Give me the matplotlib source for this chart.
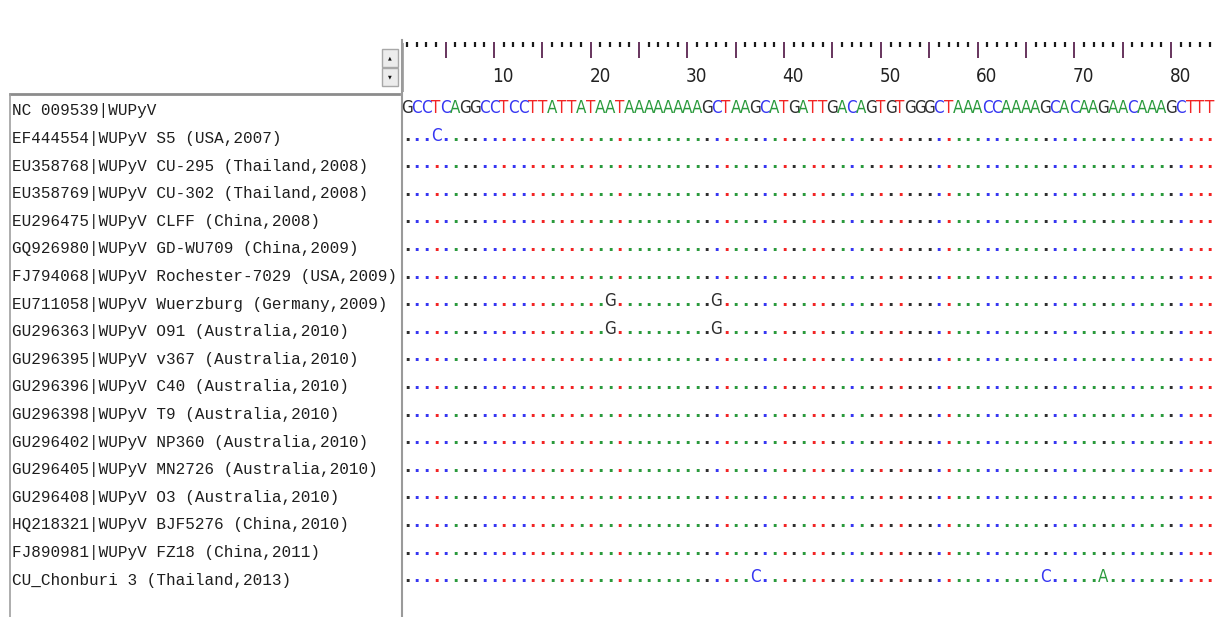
import matplotlib.pyplot as plt
from matplotlib import font_manager
from matplotlib.font_manager import FontProperties
from matplotlib.patches import Rectangle

# alignment data
names = [
    "NC 009539|WUPyV",
    "EF444554|WUPyV S5 (USA,2007)",
    "EU358768|WUPyV CU-295 (Thailand,2008)",
    "EU358769|WUPyV CU-302 (Thailand,2008)",
    "EU296475|WUPyV CLFF (China,2008)",
    "GQ926980|WUPyV GD-WU709 (China,2009)",
    "FJ794068|WUPyV Rochester-7029 (USA,2009)",
    "EU711058|WUPyV Wuerzburg (Germany,2009)",
    "GU296363|WUPyV O91 (Australia,2010)",
    "GU296395|WUPyV v367 (Australia,2010)",
    "GU296396|WUPyV C40 (Australia,2010)",
    "GU296398|WUPyV T9 (Australia,2010)",
    "GU296402|WUPyV NP360 (Australia,2010)",
    "GU296405|WUPyV MN2726 (Australia,2010)",
    "GU296408|WUPyV O3 (Australia,2010)",
    "HQ218321|WUPyV BJF5276 (China,2010)",
    "FJ890981|WUPyV FZ18 (China,2011)",
    "CU_Chonburi 3 (Thailand,2013)",
]
reference = "GCCTCAGGCCTCCTTATTATAATAAAAAAAAGCTAAGCATGATTGACAGTGTGGGCTAAACCAAAAGCACAAGAACAAAGCTTT"
variant_rows = [1, 7, 8, 17]
variant_pos = [[4], [22, 33], [22, 33], [37, 67, 73]]
variant_base = [["C"], ["G", "G"], ["G", "G"], ["C", "C", "A"]]
ruler_labels = [10, 20, 30, 40, 50, 60, 70, 80]

base_colors = {"G": "#2e2e2e", "C": "#3636f2", "T": "#f22424", "A": "#2a9a3c"}

W, H = 1218, 617
col_px0, col_w = 407, 9.67     # pixel centre of column 1, column width
row_px0, row_h = 113, 27.6     # baseline of first row, row height
seq_left, seq_top = 403, 92
ruler_top = 40


def narrow_font(size):
    # look for an installed condensed sans face, else plain DejaVu Sans
    order = ["Noto Sans", "Open Sans", "DejaVu Sans", "Liberation Sans Narrow", "Roboto"]
    found = {}
    for f in font_manager.fontManager.ttflist:
        cond = str(f.stretch) in ("condensed", "semi-condensed", "extra-condensed", "ultra-condensed")
        cond = cond or f.name == "Liberation Sans Narrow"
        if cond and f.style == "normal" and str(f.weight) in ("400", "normal", "regular"):
            found.setdefault(f.name, f.fname)
    for name in order:
        if name in found:
            return FontProperties(fname=found[name], size=size), True
    return FontProperties(family="DejaVu Sans", size=size * 0.8), False


seq_font, is_narrow = narrow_font(12.2)
label_font, _ = narrow_font(13.5)
installed = {f.name for f in font_manager.fontManager.ttflist}
mono = "Liberation Mono" if "Liberation Mono" in installed else "DejaVu Sans Mono"

fig = plt.figure(figsize=(W / 100, H / 100), dpi=100)

# window chrome in pixel coordinates
chrome = fig.add_axes([0, 0, 1, 1])
chrome.set_xlim(0, W)
chrome.set_ylim(H, 0)
chrome.axis("off")
chrome.plot([10, 399], [94, 94], color="#8c8c8c", lw=2)
chrome.plot([10, 10], [95, H], color="#a0a0a0", lw=1.2)
chrome.plot([401.5, 401.5], [ruler_top, H], color="#9a9a9a", lw=1.5)
for y0 in (49, 68):
    chrome.add_patch(Rectangle((382, y0), 16, 18, facecolor="#ececec",
                               edgecolor="#a8a8a8", lw=1))
chrome.text(390, 58, "\u25b2", fontsize=3.5, ha="center", va="center", color="#111111")
chrome.text(390, 77, "\u25bc", fontsize=3.5, ha="center", va="center", color="#111111")

c_left = 1 + (seq_left - col_px0) / col_w
c_right = 1 + (W - col_px0) / col_w
r_top = (seq_top - row_px0) / row_h
r_bottom = (H - row_px0) / row_h

# ruler
ax_r = fig.add_axes([seq_left / W, (H - seq_top) / H, (W - seq_left) / W,
                     (seq_top - ruler_top) / H])
ax_r.set_xlim(c_left, c_right)
ax_r.set_ylim(seq_top - ruler_top, 0)
ax_r.axis("off")
ncol = len(reference)
cols = list(range(1, ncol + 1))
short = [c for c in cols if c % 5 != 0]
major = [c for c in cols if c % 5 == 0]
ax_r.vlines(short, 2, 7, color="#1a1a1a", lw=1.6)
ax_r.vlines(major, 2, 18, color="#5a2450", lw=1.3)
ax_r.vlines([c_left + 0.05], 3, 52, color="#9a9a9a", lw=1.2)
for lab in ruler_labels:
    ax_r.text(lab - 0.15, 37, str(lab), ha="left", va="center",
              fontproperties=label_font, color="#222222")

# names panel
ax_n = fig.add_axes([0, 0, seq_left / W, (H - seq_top) / H])
ax_n.set_xlim(0, seq_left)
ax_n.set_ylim(r_bottom, r_top)
ax_n.axis("off")
for i, name in enumerate(names):
    ax_n.text(12, i + 0.09, name, ha="left", va="baseline", family=mono,
              fontsize=11.5, color="#1e1e1e")

# alignment
ax = fig.add_axes([seq_left / W, 0, (W - seq_left) / W, (H - seq_top) / H])
ax.set_xlim(c_left, c_right)
ax.set_ylim(r_bottom, r_top)
ax.axis("off")

for c, b in zip(cols, reference):
    ax.text(c, 0, b, ha="center", va="baseline", fontproperties=seq_font,
            color=base_colors[b])

for i in range(1, len(names)):
    subs = {}
    if i in variant_rows:
        k = variant_rows.index(i)
        subs = dict(zip(variant_pos[k], variant_base[k]))
    for c, b in zip(cols, reference):
        if c in subs:
            ax.text(c, i, subs[c], ha="center", va="baseline",
                    fontproperties=seq_font, color=base_colors[subs[c]])
        else:
            ax.text(c, i, ".", ha="center", va="baseline", family="DejaVu Sans",
                    fontweight="bold", fontsize=12, color=base_colors[b])

fig.savefig("out.png", dpi=100, facecolor="white")
